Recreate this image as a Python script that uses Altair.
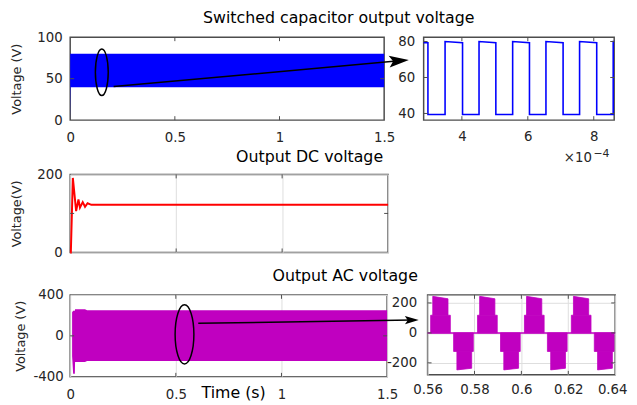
import altair as alt
import pandas as pd

FONT = "DejaVu Sans"
BOX = "#4d4d4d"
TXT = "#262626"
GRID = "#dddddd"
BLUE = "#0000ff"
RED = "#ff0000"
MAG = "#c000c0"

# ---------------- data ----------------
# switched-capacitor output, overview: the 10 kHz square wave fills a 40-80 V band
sc_t = [0.0, 0.002, 1.5]
sc_lo = [0.0, 39.5, 39.5]
sc_hi = [80.0, 80.0, 80.0]

# switched-capacitor output, zoom (time in units of 1e-4 s)
sq_window = [2.84, 8.62]
sq_fall = [2.97, 4.02, 5.03, 6.05, 7.07, 8.09]
sq_rise = [3.49, 4.52, 5.54, 6.55, 7.57, 8.59]
sq_high = [80.0, 79.3]      # level at the start / end of every high interval
sq_low = 39.4

# output DC voltage
dc_t = [0.0, 0.003, 0.0125, 0.028, 0.039, 0.046, 0.059, 0.070, 0.082, 0.100, 1.5]
dc_v = [0.0, 0.0, 191.0, 106.0, 136.0, 115.0, 129.0, 117.0, 126.0, 122.0, 122.0]

# output AC voltage, overview envelope
ac_t = [0.009, 0.014, 0.022, 0.023, 0.070, 0.080, 1.5]
ac_hi = [230.0, 245.0, 245.0, 260.0, 260.0, 250.0, 250.0]
ac_lo = [-200.0, -370.0, -370.0, -255.0, -255.0, -245.0, -245.0]

# output AC voltage, zoom: the staircase blocks of each half cycle
pos1_start = [0.5613, 0.5813, 0.6013, 0.6213]
pos1_end = [0.5697, 0.5897, 0.6097, 0.6297]
pos2_start = [0.5622, 0.5822, 0.6022, 0.6222]
pos2_end = [0.5687, 0.5887, 0.6087, 0.6287]
neg1_start = [0.5711, 0.5911, 0.6111, 0.6311]
neg1_end = [0.5795, 0.5995, 0.6195, 0.6395]
neg2_start = [0.5725, 0.5925, 0.6125, 0.6325]
neg2_end = [0.5788, 0.5988, 0.6188, 0.6388]
lvl_pos = 118.0
lvl_neg = -124.0
pos_top = [244.0, 228.0]
neg_bot = [-247.0, -236.0]
zero_t = [0.56, 0.64]
zero_v = [0.0, 0.0]

# annotations (data coordinates of the panel they sit in)
tl_ell = {"t": [0.151], "v": [57.7]}
tl_arrow = {"t": [0.2075, 1.571], "v": [40.5, 71.5]}
bl_ell = {"t": [0.541], "v": [14.5]}
bl_arrow = {"t": [0.606, 1.617], "v": [123.0, 154.0]}

# ---------------- sizes ----------------
W_TL, H_TL = 318, 84
W_TR = 193
W_MID, H_MID = 322, 79
W_BL, H_BL = 321, 83
W_BR, H_BR = 190, 81

LABEL_EXPR = "(datum.value < 0 ? '-' : '') + format(abs(datum.value), '~g')"


def sc(domain):
    return alt.Scale(domain=domain, nice=False, zero=False)


def ax(values, **kw):
    d = dict(values=values, labelFont=FONT, labelFontSize=13.5, labelColor=TXT,
             ticks=False, tickSize=0, domain=False, labelFlush=False,
             labelOverlap=False, grid=False, gridColor=GRID, gridWidth=1,
             title=None, labelExpr=LABEL_EXPR)
    d.update(kw)
    return alt.Axis(**d)


def yax(values, title, tx, h, **kw):
    return ax(values, title=title, titleFont=FONT, titleFontSize=13,
              titleFontWeight="normal", titleColor=TXT, titleX=tx, titleY=h / 2,
              titleAngle=270, titleBaseline="top", titleAlign="center", **kw)


def txt(s, x, y, size=16, align="center", color="black"):
    return alt.Chart(pd.DataFrame({"s": [s]})).mark_text(
        align=align, baseline="alphabetic", font=FONT, fontSize=size, color=color).encode(
        text="s:N", x=alt.value(x), y=alt.value(y))


def box_ticks(xv, yv, xs, ys, w, h, L=4):
    xd = pd.DataFrame({"v": xv})
    yd = pd.DataFrame({"v": yv})
    out = []
    for a, b in ((0, L), (h, h - L)):
        out.append(alt.Chart(xd).mark_rule(color=BOX, strokeWidth=1).encode(
            x=alt.X("v:Q", scale=xs), y=alt.value(a), y2=alt.value(b)))
    for a, b in ((0, L), (w, w - L)):
        out.append(alt.Chart(yd).mark_rule(color=BOX, strokeWidth=1).encode(
            y=alt.Y("v:Q", scale=ys), x=alt.value(a), x2=alt.value(b)))
    return out


ELL = "M -{r} 0 A {r} 1 0 1 0 {r} 0 A {r} 1 0 1 0 -{r} 0 Z"
HEAD = "M 1 0 L -1 -0.6 L -0.6 0 L -1 0.6 Z"

# ---------------- top-left: overview of switched capacitor voltage ----------------
xs_tl, ys_tl = sc([0, 1.5]), sc([0, 100])
band = alt.Chart(pd.DataFrame({"t": sc_t, "lo": sc_lo, "hi": sc_hi})).mark_area(
    color=BLUE).encode(
    x=alt.X("t:Q", scale=xs_tl, axis=ax([0, 0.5, 1, 1.5], labelPadding=11)),
    y=alt.Y("hi:Q", scale=ys_tl, axis=yax([0, 50, 100], "Voltage (V)", -60, H_TL, labelPadding=8)),
    y2="lo:Q")
ell1 = alt.Chart(pd.DataFrame(tl_ell)).mark_point(
    shape=ELL.format(r=0.277), size=47 * 47, filled=False, color="black",
    strokeWidth=1.5, opacity=1).encode(
    x=alt.X("t:Q", scale=xs_tl), y=alt.Y("v:Q", scale=ys_tl))
arr1 = alt.Chart(pd.DataFrame(tl_arrow)).mark_line(color="black", strokeWidth=1.5).encode(
    x=alt.X("t:Q", scale=xs_tl), y=alt.Y("v:Q", scale=ys_tl))
head1 = alt.Chart(pd.DataFrame({"t": [tl_arrow["t"][1]], "v": [tl_arrow["v"][1]]})).mark_point(
    shape=HEAD, size=400, filled=True, color="black", opacity=1, angle=354.8).encode(
    x=alt.X("t:Q", scale=xs_tl), y=alt.Y("v:Q", scale=ys_tl))
TL = alt.layer(band, *box_ticks([0.5, 1], [50], xs_tl, ys_tl, W_TL, H_TL),
               ell1, arr1, head1,
               txt("Switched capacitor output voltage", 272, -14.5)).properties(
    width=W_TL, height=H_TL)

# ---------------- top-right: zoomed square wave ----------------
sq_x, sq_y = [sq_window[0]], [sq_high[1]]
for f, r in zip(sq_fall, sq_rise):
    sq_x += [f, f, r, r]
    sq_y += [sq_high[1], sq_low, sq_low, sq_high[0]]
sq_x.append(sq_window[1])
sq_y.append(sq_high[0])
sq_df = pd.DataFrame({"t": sq_x, "v": sq_y, "i": list(range(len(sq_x)))})
xs_tr, ys_tr = sc(sq_window), sc([36.3, 82.4])
sq = alt.Chart(sq_df).mark_line(color=BLUE, strokeWidth=1.6).encode(
    x=alt.X("t:Q", scale=xs_tr, axis=ax([4, 6, 8], labelPadding=10)),
    y=alt.Y("v:Q", scale=ys_tr, axis=ax([40, 60, 80], labelPadding=9)),
    order="i:Q")
TR = alt.layer(sq, *box_ticks([4, 6, 8], [40, 60, 80], xs_tr, ys_tr, W_TR, H_TL)).properties(
    width=W_TR, height=H_TL)

# ---------------- middle: DC output ----------------
xs_m, ys_m = sc([0, 1.5]), sc([0, 200])
dc = alt.Chart(pd.DataFrame({"t": dc_t, "v": dc_v})).mark_line(color=RED, strokeWidth=2).encode(
    x=alt.X("t:Q", scale=xs_m, axis=ax([0, 0.5, 1, 1.5], grid=True, labelOpacity=0,
                                       labelPadding=0, labelFontSize=13)),
    y=alt.Y("v:Q", scale=ys_m, axis=yax([0, 100, 200], "Voltage(V)", -60, H_MID, grid=True, labelPadding=8)))
MID = alt.layer(dc, *box_ticks([0.5, 1], [100], xs_m, ys_m, W_MID, H_MID),
                txt("Output DC voltage", 242.5, -12.3),
                txt("\u00d710", 500, -13, size=13.5, align="left", color=TXT),
                txt("\u22124", 530, -18, size=11, align="left", color=TXT)).properties(
    width=W_MID, height=H_MID)

# ---------------- bottom-left: AC overview ----------------
xs_bl, ys_bl = sc([0, 1.5]), sc([-400, 400])
ac = alt.Chart(pd.DataFrame({"t": ac_t, "lo": ac_lo, "hi": ac_hi})).mark_area(color=MAG).encode(
    x=alt.X("t:Q", scale=xs_bl, axis=ax(
        [0, 0.5, 1, 1.5], grid=True, labelPadding=11, title="Time (s)", titleFont=FONT,
        titleFontSize=16, titleFontWeight="normal", titleColor="black",
        titleX=165, titleY=21, titleBaseline="alphabetic", titleAlign="center")),
    y=alt.Y("hi:Q", scale=ys_bl, axis=yax([-400, 0, 400], "Voltage (V)", -56, H_BL, grid=True, labelPadding=7)),
    y2="lo:Q")
ell2 = alt.Chart(pd.DataFrame(bl_ell)).mark_point(
    shape=ELL.format(r=0.317), size=60 * 60, filled=False, color="black",
    strokeWidth=1.5, opacity=1).encode(
    x=alt.X("t:Q", scale=xs_bl), y=alt.Y("v:Q", scale=ys_bl))
arr2 = alt.Chart(pd.DataFrame(bl_arrow)).mark_line(color="black", strokeWidth=1.5).encode(
    x=alt.X("t:Q", scale=xs_bl), y=alt.Y("v:Q", scale=ys_bl))
head2 = alt.Chart(pd.DataFrame({"t": [bl_arrow["t"][1]], "v": [bl_arrow["v"][1]]})).mark_point(
    shape=HEAD, size=196, filled=True, color="black", opacity=1, angle=359.15).encode(
    x=alt.X("t:Q", scale=xs_bl), y=alt.Y("v:Q", scale=ys_bl))
BL = alt.layer(ac, *box_ticks([0.5, 1], [0], xs_bl, ys_bl, W_BL, H_BL), ell2, arr2, head2,
               txt("Output AC voltage", 278.5, -14)).properties(
    width=W_BL, height=H_BL)

# ---------------- bottom-right: AC zoom ----------------
rows = []
for k in range(len(pos1_start)):
    rows += [("p1%d" % k, pos1_start[k], lvl_pos, 0.0), ("p1%d" % k, pos1_end[k], lvl_pos, 0.0)]
    rows += [("p2%d" % k, pos2_start[k], pos_top[0], lvl_pos), ("p2%d" % k, pos2_end[k], pos_top[1], lvl_pos)]
    rows += [("n1%d" % k, neg1_start[k], 0.0, lvl_neg), ("n1%d" % k, neg1_end[k], 0.0, lvl_neg)]
    rows += [("n2%d" % k, neg2_start[k], lvl_neg, neg_bot[0]), ("n2%d" % k, neg2_end[k], lvl_neg, neg_bot[1])]
br_df = pd.DataFrame(rows, columns=["blk", "t", "top", "bot"])
xs_br, ys_br = sc([0.56, 0.64]), sc([-280, 254])
zero = alt.Chart(pd.DataFrame({"t": zero_t, "v": zero_v})).mark_line(color=MAG, strokeWidth=1.5).encode(
    x=alt.X("t:Q", scale=xs_br, axis=ax(
        [0.56, 0.58, 0.6, 0.62, 0.64], grid=True, labelPadding=8,
        labelOffset={"condition": {"test": "datum.value > 0.639", "value": -3}, "value": 0})),
    y=alt.Y("v:Q", scale=ys_br, axis=ax([-200, 0, 200], grid=True, labelPadding=11)))
blocks = alt.Chart(br_df).mark_area(color=MAG, stroke=MAG, strokeWidth=0.8).encode(
    x=alt.X("t:Q", scale=xs_br),
    y=alt.Y("top:Q", scale=ys_br, stack=None),
    y2="bot:Q",
    detail="blk:N")
BR = alt.layer(zero, blocks, *box_ticks([0.58, 0.6, 0.62], [-200, 0, 200], xs_br, ys_br, W_BR, H_BR)).properties(
    width=W_BR, height=H_BR)

row1 = alt.hconcat(TL, TR, spacing=40, bounds="flush")
row3 = alt.hconcat(BL, BR, spacing=41, bounds="flush")
chart = alt.vconcat(row1, MID, row3, spacing=1, bounds="full").properties(
    autosize=alt.AutoSizeParams(type="none"),
    padding={"left": 63, "top": 27, "right": 566, "bottom": 372},
    background="white"
).configure_view(stroke=BOX, strokeWidth=1.5)

chart.save("out.html", embed_options={"renderer": "svg", "actions": False})
